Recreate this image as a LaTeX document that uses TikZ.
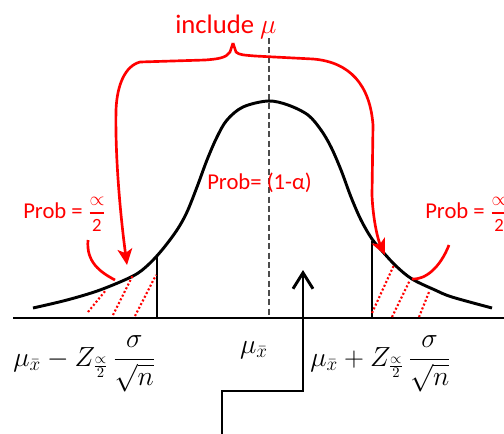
\documentclass[tikz,border=0pt]{standalone}
\usepackage{amsmath}
\usepackage{fontspec}
\setmainfont{Carlito}
\usetikzlibrary{positioning, arrows.meta}
\newcommand{\halfalpha}{{\fontsize{14}{14}\selectfont$\genfrac{}{}{1.4pt}{0}{\propto}{\mbox{2}}$}}
\begin{document}
\begin{tikzpicture}[
    x=0.75pt, y=-0.75pt,
    line/.style={draw, line width=2.2pt},
    redline/.style={draw=red, line width=2pt},
    hatch/.style={draw=red, line width=1.6pt, dash pattern=on 1.5pt off 1.6pt},
    lbl/.style={text=red, font=\fontsize{17}{20}\selectfont, inner sep=0pt},
    mathlbl/.style={font=\fontsize{22}{26}\selectfont, inner sep=0pt}
  ]
    \useasboundingbox (0,0) rectangle (504,433);
    % 横軸
    \coordinate (ax0) at (13,318);
    \coordinate (ax1) at (504,318);
    \draw[line] (ax0) -- (ax1);
    % 中心の破線
    \coordinate (mtop) at (269,38);
    \coordinate (mbot) at (269,318);
    \draw[draw=black!70, line width=1.6pt, dash pattern=on 4.5pt off 2.5pt] (mtop) -- (mbot);
    % 分布曲線
    \coordinate (cl) at (157,257);
    \coordinate (cr) at (372,241);
    \draw[line, line join=round] plot[smooth, tension=0.55] coordinates {
      (33,308) (67,300) (100,290) (133,276) (148,265) (162,250) (177,230)
      (187,212) (197,187) (207,160) (217,137) (227,120) (243,107) (268,101)
      (288,105) (308,115) (321,130) (331,147) (341,170) (351,197) (361,220)
      (372,239) (383,252) (396,266) (412,279) (435,290) (452,297) (492,308)};
    % 棄却域の境界
    \draw[line] (cl) -- (cl |- ax0);
    \draw[line] (cr) -- (cr |- ax0);
    % 斜線（点線）
    \draw[hatch] (88,312) -- (106,290);
    \draw[hatch] (113,315) -- (133,275);
    \draw[hatch] (135,316) -- (156,275);
    \draw[hatch] (372,313) -- (394,265);
    \draw[hatch] (392,317) -- (410,280);
    \draw[hatch] (419,317) -- (429,292);
    % ラベル
    \node[lbl, font=\fontsize{20}{24}\selectfont, anchor=base west] (inc) at (175,33) {include $\mu$};
    \node[lbl, anchor=base west] (pmid) at (207,189) {Prob= (1-α)};
    \node[lbl, anchor=base west] (pleft) at (23,218) {Prob = \halfalpha};
    \node[lbl, anchor=base west] (pright) at (425,218) {Prob = \halfalpha};
    % 括弧と矢印
    \coordinate (br) at (233,43);
    \coordinate (lt) at (127,265);
    \coordinate (rt) at (385,255);
    \draw[redline, line join=round, -{Stealth[length=12pt, width=11pt, inset=3pt]}]
      (br) -- (230,52) .. controls (226,58) and (218,59) .. (205,60) -- (140,62)
      .. controls (125,66) and (117,85) .. (116,110)
      .. controls (115,160) and (121,220) .. (lt);
    \draw[redline, line join=round, -{Stealth[length=12pt, width=11pt, inset=3pt]}]
      (br) -- (236,52) .. controls (239,55) and (244,55) .. (255,56) -- (313,59)
      .. controls (350,62) and (370,85) .. (373,125) -- (372,195)
      .. controls (373,220) and (378,240) .. (rt);
    \coordinate (lh) at (115,280);
    \coordinate (rh) at (412,279);
    \draw[redline] (88,240) .. controls (86,262) and (100,272) .. (lh);
    \draw[redline] (449,245) .. controls (440,268) and (425,280) .. (rh);
    % 横軸の目盛りラベル
    \node[mathlbl, anchor=west] (lo) at (13,364) {$\displaystyle \mu_{\bar{x}} - Z_{\frac{\propto}{2}}\,\frac{\sigma}{\sqrt{n}}$};
    \node[mathlbl] (mid) at (254,350) {$\mu_{\bar{x}}$};
    \node[mathlbl, anchor=west] (hi) at (310,364) {$\displaystyle \mu_{\bar{x}} + Z_{\frac{\propto}{2}}\,\frac{\sigma}{\sqrt{n}}$};
    % 下からの矢印
    \coordinate (s0) at (222,440);
    \coordinate (s1) at (303,270);
    \draw[line, line join=miter, -{Straight Barb[length=12pt, width=15pt]}]
      (s0) |- (303,391) -- (s1);
\end{tikzpicture}
\end{document}
